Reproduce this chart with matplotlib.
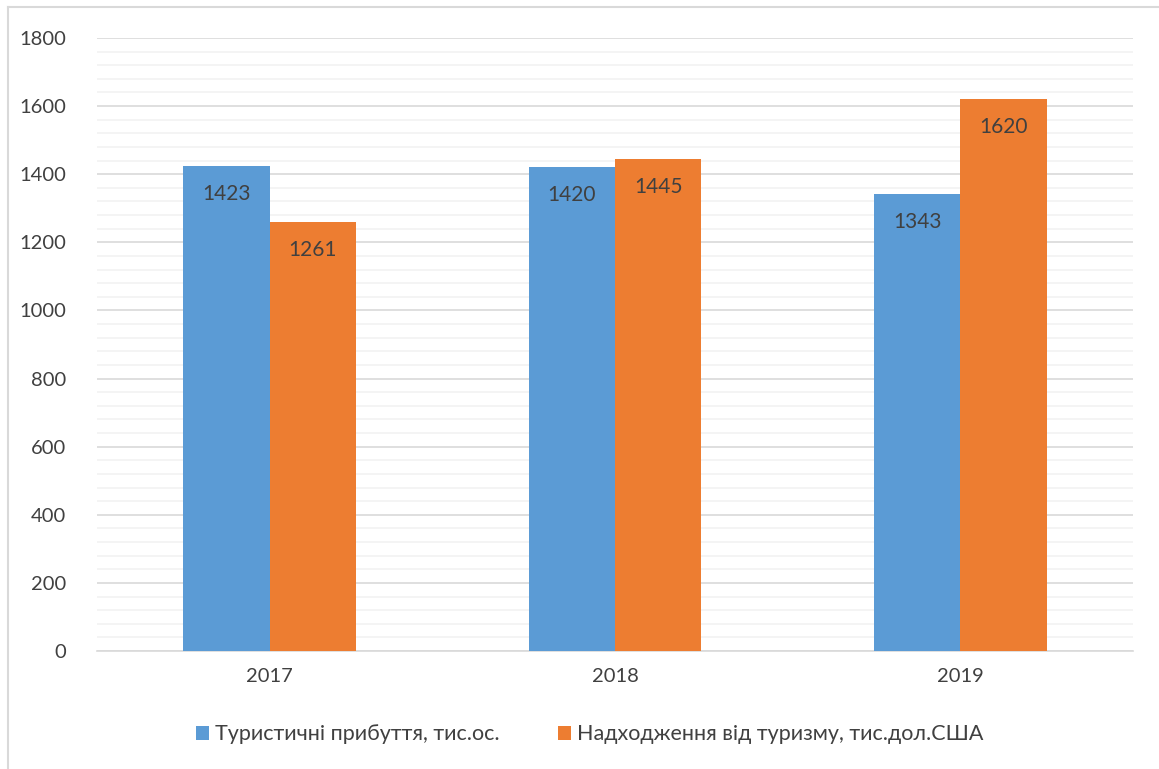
import numpy as np
import matplotlib.pyplot as plt
from matplotlib.ticker import MultipleLocator
from matplotlib.lines import Line2D

# Data
years = ['2017', '2018', '2019']
arrivals = [1423, 1420, 1343]
revenue = [1261, 1445, 1620]
series_names = ['Туристичні прибуття, тис.ос.', 'Надходження від туризму, тис.дол.США']

blue = '#5B9BD5'
orange = '#ED7D31'
txt = '#404040'

plt.rcParams['font.family'] = ['Lato', 'DejaVu Sans']

fig = plt.figure(figsize=(11.59, 7.69), dpi=100)
ax = fig.add_axes([0.0837, 0.1534, 0.8939, 0.7972])

x = np.arange(len(years))
w = 0.25
b1 = ax.bar(x - w / 2, arrivals, w, color=blue, label=series_names[0], zorder=3)
b2 = ax.bar(x + w / 2, revenue, w, color=orange, label=series_names[1], zorder=3)

for bars in (b1, b2):
    for r in bars:
        ax.annotate(f'{int(r.get_height())}', (r.get_x() + r.get_width() / 2, r.get_height()),
                    xytext=(0, -28), textcoords='offset pixels', ha='center', va='center',
                    fontsize=15, color=txt, zorder=4)

ax.set_xlim(-0.5, 2.5)
ax.set_ylim(0, 1800)
ax.yaxis.set_major_locator(MultipleLocator(200))
ax.yaxis.set_minor_locator(MultipleLocator(40))
ax.grid(axis='y', which='major', color='#D9D9D9', linewidth=1.2, zorder=0)
ax.grid(axis='y', which='minor', color='#F2F2F2', linewidth=1.2, zorder=0)
ax.set_xticks(x)
ax.set_xticklabels(years)
ax.tick_params(axis='both', which='both', length=0, labelsize=14.5, labelcolor=txt)
ax.tick_params(axis='y', pad=22)
ax.tick_params(axis='x', pad=12)
for s in ['top', 'right', 'left']:
    ax.spines[s].set_visible(False)
ax.spines['bottom'].set_color('#D9D9D9')
ax.spines['bottom'].set_linewidth(1.2)

leg = fig.legend(loc='center', bbox_to_anchor=(0.509, 0.045), ncol=2, frameon=False,
                 fontsize=15.5, handlelength=0.6, handleheight=0.6, columnspacing=2.7,
                 handletextpad=0.3)
for t in leg.get_texts():
    t.set_color(txt)

# outer chart border
fig.add_artist(Line2D([8 / 1159, 8 / 1159], [0, 1 - 7 / 769], transform=fig.transFigure,
                      color='#D9D9D9', linewidth=1.5))
fig.add_artist(Line2D([8 / 1159, 1], [1 - 7 / 769, 1 - 7 / 769], transform=fig.transFigure,
                      color='#D9D9D9', linewidth=1.5))

fig.savefig('out.png', dpi=100)
